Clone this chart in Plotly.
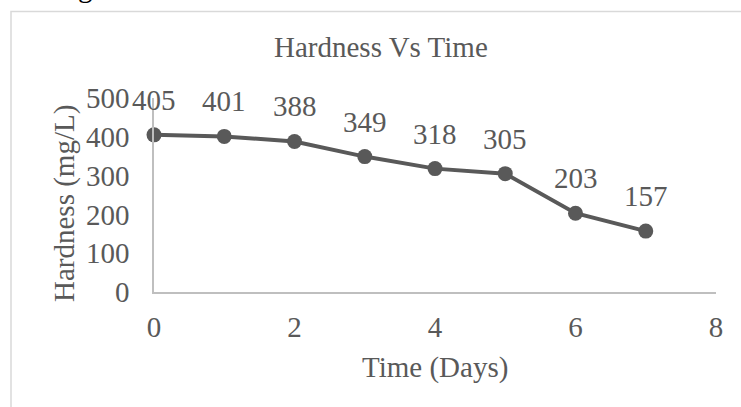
import plotly.graph_objects as go

# Hardness measured over a week of treatment
days = [0, 1, 2, 3, 4, 5, 6, 7]
hardness = [405, 401, 388, 349, 318, 305, 203, 157]

x_ticks = [0, 2, 4, 6, 8]
y_ticks = [0, 100, 200, 300, 400, 500]

W, H = 741, 407
ML, MR, MT, MB = 154, 25, 98, 115
PW, PH = W - ML - MR, H - MT - MB

TEXT = "#595959"
FONT = "Liberation Serif, Times New Roman, serif"
FS = 29


def px_to_paper_x(px):
    return (px - ML) / PW


def px_to_paper_y(py):
    return (H - MB - py) / PH


fig = go.Figure()
fig.add_trace(go.Scatter(
    x=days, y=hardness,
    mode="lines+markers",
    line=dict(color="#595959", width=4),
    marker=dict(color="#595959", size=15),
    showlegend=False,
    cliponaxis=False,
))

# value labels above each point
for d, h in zip(days, hardness):
    fig.add_annotation(
        x=d, y=h, text=str(h), showarrow=False,
        yanchor="middle", yshift=35,
        font=dict(family=FONT, size=FS, color=TEXT),
    )

# chart frame
fig.add_shape(
    type="rect", xref="paper", yref="paper",
    x0=px_to_paper_x(11), x1=px_to_paper_x(760),
    y0=px_to_paper_y(430), y1=px_to_paper_y(11.5),
    line=dict(color="#D9D9D9", width=1.5), fillcolor="rgba(0,0,0,0)",
    layer="below",
)

# title
fig.add_annotation(
    xref="paper", yref="paper",
    x=px_to_paper_x(381), y=px_to_paper_y(47),
    text="Hardness Vs Time", showarrow=False,
    xanchor="center", yanchor="middle",
    font=dict(family=FONT, size=FS, color=TEXT),
)

# axis titles
fig.add_annotation(
    xref="paper", yref="paper",
    x=0.5, y=px_to_paper_y(367),
    text="Time (Days)", showarrow=False,
    xanchor="center", yanchor="middle",
    font=dict(family=FONT, size=FS, color=TEXT),
)
fig.add_annotation(
    xref="paper", yref="paper",
    x=px_to_paper_x(64), y=px_to_paper_y(204),
    text="Hardness (mg/L)", showarrow=False, textangle=-90,
    xanchor="center", yanchor="middle",
    font=dict(family=FONT, size=FS, color=TEXT),
)

# text running in from the page above
fig.add_annotation(
    xref="paper", yref="paper",
    x=px_to_paper_x(85), y=px_to_paper_y(-13),
    text="g", showarrow=False,
    xanchor="center", yanchor="middle",
    font=dict(family=FONT, size=FS, color="#000000"),
)

fig.update_xaxes(
    range=[0, 8], tickvals=x_ticks, ticktext=[str(v) for v in x_ticks],
    showgrid=False, zeroline=False,
    showline=True, linecolor="#BFBFBF", linewidth=1.5,
    ticks="", ticklabelstandoff=8,
    tickfont=dict(family=FONT, size=FS, color=TEXT),
)
fig.update_yaxes(
    range=[0, 500], tickvals=y_ticks, ticktext=[str(v) for v in y_ticks],
    showgrid=False, zeroline=False,
    showline=True, linecolor="#BFBFBF", linewidth=1.5,
    ticks="", ticklabelstandoff=17,
    tickfont=dict(family=FONT, size=FS, color=TEXT),
)

fig.update_layout(
    width=W, height=H,
    margin=dict(l=ML, r=MR, t=MT, b=MB, pad=0),
    paper_bgcolor="white", plot_bgcolor="white",
    showlegend=False,
)

fig.write_html("out.html")
